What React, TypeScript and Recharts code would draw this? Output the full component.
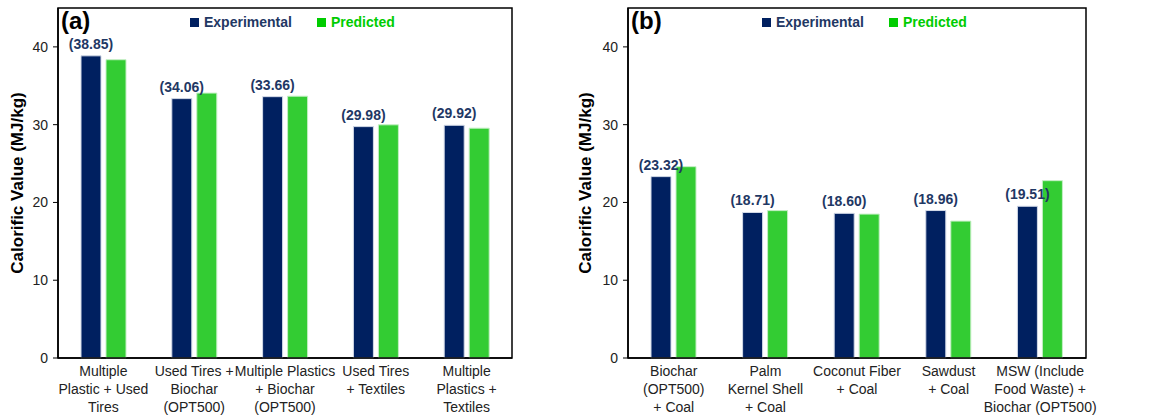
import { Bar, BarChart, LabelList, Legend, XAxis, YAxis, Label, ReferenceArea } from 'recharts'

const categoriesA = [
  'Multiple\nPlastic + Used\nTires',
  'Used Tires +\nBiochar\n(OPT500)',
  'Multiple Plastics\n+ Biochar\n(OPT500)',
  'Used Tires\n+ Textiles',
  'Multiple\nPlastics +\nTextiles',
]
const experimentalA = [38.85, 33.35, 33.6, 29.75, 29.92]
const predictedA = [38.35, 34.06, 33.66, 29.98, 29.55]
const labelsA = ['(38.85)', '(34.06)', '(33.66)', '(29.98)', '(29.92)']

const categoriesB = [
  'Biochar\n(OPT500)\n+ Coal',
  'Palm\nKernel Shell\n+ Coal',
  'Coconut Fiber\n+ Coal',
  'Sawdust\n+ Coal',
  'MSW (Include\nFood Waste) +\nBiochar (OPT500)',
]
const experimentalB = [23.32, 18.71, 18.6, 18.96, 19.51]
const predictedB = [24.6, 18.95, 18.5, 17.6, 22.8]
const labelsB = ['(23.32)', '(18.71)', '(18.60)', '(18.96)', '(19.51)']

const yTicks = [0, 10, 20, 30, 40]

const NAVY = '#002060'
const GREEN = '#33CC33'
const FONT = '"Liberation Sans", Arial, sans-serif'

const build = (cats: string[], exp: number[], pred: number[], labels: string[]) =>
  cats.map((name, i) => ({ name, experimental: exp[i], predicted: pred[i], label: labels[i] }))

const MultiTick = ({ x, y, payload }: any) => {
  const lines = String(payload.value).split('\n')
  return (
    <text x={x} y={y} textAnchor='middle' fontSize={14} fill='#222' fontFamily={FONT}>
      {lines.map((l, i) => (
        <tspan key={i} x={x} dy={18}>
          {l}
        </tspan>
      ))}
    </text>
  )
}

const LegendBox = () => (
  <div style={{ display: 'flex', alignItems: 'center', fontFamily: FONT, fontWeight: 'bold', fontSize: 14 }}>
    <span style={{ width: 9, height: 9, background: NAVY, marginRight: 5 }} />
    <span style={{ color: '#1F3864', marginRight: 25 }}>Experimental</span>
    <span style={{ width: 9, height: 9, background: '#00CC00', marginRight: 5 }} />
    <span style={{ color: '#00CC00' }}>Predicted</span>
  </div>
)

interface IPanel {
  data: ReturnType<typeof build>
  width: number
  yWidth: number
  right: number
  tag: string
  tagX: number
  legendLeft: number
}

const Panel = ({ data, width, yWidth, right, tag, tagX, legendLeft }: IPanel) => {
  return (
    <BarChart
      width={width}
      height={419}
      data={data}
      margin={{ top: 8, right, bottom: 0, left: 0 }}
      barSize={20}
      barGap={5}
    >
      <XAxis
        dataKey='name'
        height={61}
        interval={0}
        tick={<MultiTick />}
        tickLine={false}
        tickSize={0}
        tickMargin={0}
        axisLine={{ stroke: '#000', strokeWidth: 1.5 }}
      />
      <YAxis
        width={yWidth}
        domain={[0, 45]}
        ticks={yTicks}
        tickSize={5}
        tickMargin={5}
        tick={{ fontSize: 14, fill: '#222', fontFamily: FONT }}
        tickLine={{ stroke: '#000' }}
        axisLine={{ stroke: '#000', strokeWidth: 1.5 }}
      >
        <Label
          value='Calorific Value (MJ/kg)'
          angle={-90}
          position='insideLeft'
          offset={0}
          dx={17}
          style={{ fontSize: 17, fontWeight: 'bold', fill: '#000', fontFamily: FONT, textAnchor: 'middle' }}
        />
      </YAxis>
      <ReferenceArea y1={0} y2={45} fill='none' stroke='#000' strokeWidth={1.5} ifOverflow='visible' />
      <Legend
        content={<LegendBox />}
        layout='horizontal'
        verticalAlign='middle'
        align='center'
        wrapperStyle={{ position: 'absolute', top: 14, left: legendLeft, width: 'auto' }}
      />
      <Bar dataKey='experimental' name='Experimental' fill={NAVY} stroke='#d3dae8' strokeWidth={1} isAnimationActive={false}>
        <LabelList
          dataKey='label'
          position='top'
          offset={7}
          style={{ fontSize: 14, fontWeight: 'bold', fill: '#1F3864', fontFamily: FONT, stroke: 'none' }}
        />
      </Bar>
      <Bar dataKey='predicted' name='Predicted' fill={GREEN} stroke='#c4efc4' strokeWidth={1} isAnimationActive={false} />
      <text x={tagX} y={29} fontSize={24} fontWeight='bold' fontFamily={FONT} fill='#000'>
        {tag}
      </text>
    </BarChart>
  )
}

const App = () => {
  const dataA = build(categoriesA, experimentalA, predictedA, labelsA)
  const dataB = build(categoriesB, experimentalB, predictedB, labelsB)
  return (
    <div style={{ position: 'absolute', left: 0, top: 0, width: 1158, height: 419, background: '#fff' }}>
      <div style={{ position: 'absolute', left: 0, top: 0 }}>
        <Panel data={dataA} width={580} yWidth={58} right={68} tag='(a)' tagX={61} legendLeft={190} />
      </div>
      <div style={{ position: 'absolute', left: 568, top: 0 }}>
        <Panel data={dataB} width={590} yWidth={60} right={72} tag='(b)' tagX={63} legendLeft={194} />
      </div>
    </div>
  )
}

export default App
